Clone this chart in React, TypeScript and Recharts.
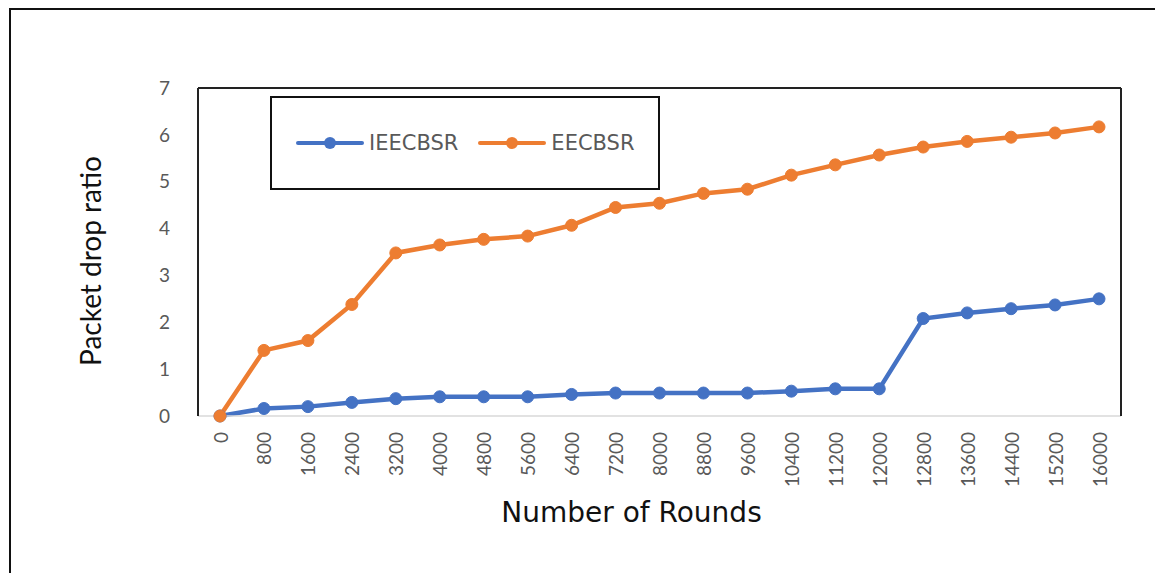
import {
  Label,
  Legend,
  Line,
  LineChart,
  XAxis,
  YAxis,
} from 'recharts';

const rounds = [
  '0', '800', '1600', '2400', '3200', '4000', '4800', '5600', '6400', '7200', '8000',
  '8800', '9600', '10400', '11200', '12000', '12800', '13600', '14400', '15200', '16000',
];

const ieecbsr = [
  0, 0.16, 0.2, 0.29, 0.37, 0.41, 0.41, 0.41, 0.46, 0.49, 0.49,
  0.49, 0.49, 0.53, 0.58, 0.58, 2.08, 2.2, 2.29, 2.37, 2.5,
];

const eecbsr = [
  0, 1.4, 1.61, 2.38, 3.48, 3.65, 3.77, 3.84, 4.07, 4.45, 4.54,
  4.75, 4.84, 5.14, 5.36, 5.57, 5.74, 5.86, 5.95, 6.04, 6.17,
];

const seriesNames = ['IEECBSR', 'EECBSR'];
const yTicks = [0, 1, 2, 3, 4, 5, 6, 7];

const data = rounds.map((label, i) => ({
  label,
  IEECBSR: ieecbsr[i],
  EECBSR: eecbsr[i],
}));

const BLUE = '#4472C4';
const ORANGE = '#ED7D31';
const FONT = 'Lato, "Liberation Sans", sans-serif';
const WIDE_FONT = '"DejaVu Sans", sans-serif';

function LegendBox({ payload }: any) {
  const items = [...(payload || [])].sort(
    (a: any, b: any) => seriesNames.indexOf(a.value) - seriesNames.indexOf(b.value)
  );
  return (
    <div
      style={{
        display: 'flex',
        alignItems: 'center',
        height: '100%',
        paddingLeft: 24,
        fontFamily: WIDE_FONT,
        fontSize: 21,
        color: '#595959',
      }}
    >
      {items.map((entry: any) => (
        <div
          key={entry.value}
          style={{ display: 'flex', alignItems: 'center', marginRight: 20 }}
        >
          <svg width={68} height={16} style={{ marginRight: 5 }}>
            <line x1={2} y1={8} x2={66} y2={8} stroke={entry.color} strokeWidth={4} strokeLinecap="round" />
            <circle cx={34} cy={8} r={6} fill={entry.color} />
          </svg>
          <span>{entry.value}</span>
        </div>
      ))}
    </div>
  );
}

export default function App() {
  return (
    <div
      style={{
        width: 1155,
        height: 565,
        marginLeft: 1,
        borderLeft: '2px solid #111',
        borderTop: '2px solid #111',
        boxSizing: 'border-box',
        overflow: 'hidden',
        background: '#fff',
      }}
    >
      <LineChart
        width={1153}
        height={563}
        data={data}
        margin={{ top: 77, right: 42, left: 147, bottom: 77 }}
      >
        <XAxis
          dataKey="label"
          interval={0}
          height={80}
          padding={{ left: 22, right: 22 }}
          tickLine={false}
          axisLine={{ stroke: '#d9d9d9', strokeWidth: 1.5 }}
          tick={(props: any) => (
            <text
              x={props.x}
              y={props.y}
              transform={`rotate(-90 ${props.x} ${props.y})`}
              textAnchor="end"
              dominantBaseline="central"
              dx={-8}
              fill="#595959"
              fontSize={19}
              fontFamily={FONT}
            >
              {props.payload.value}
            </text>
          )}
        >
          <Label
            value="Number of Rounds"
            position="bottom"
            offset={6}
            dx={-28}
            fill="#111"
            fontSize={28}
            fontFamily={WIDE_FONT}
          />
        </XAxis>
        <XAxis
          xAxisId="top"
          dataKey="label"
          orientation="top"
          height={1}
          padding={{ left: 22, right: 22 }}
          tick={false}
          tickLine={false}
          axisLine={{ stroke: '#222', strokeWidth: 2 }}
        />
        <YAxis
          domain={[0, 7]}
          ticks={yTicks}
          width={40}
          tickLine={false}
          tickMargin={22}
          axisLine={{ stroke: '#222', strokeWidth: 2 }}
          tick={{ fill: '#595959', fontSize: 19, fontFamily: FONT }}
        >
          <Label
            value="Packet drop ratio"
            angle={-90}
            position="left"
            offset={67}
            dy={9}
            textAnchor="middle"
            fill="#111"
            fontSize={28}
            fontFamily={FONT}
          />
        </YAxis>
        <YAxis
          yAxisId="right"
          orientation="right"
          domain={[0, 7]}
          width={1}
          tick={false}
          tickLine={false}
          axisLine={{ stroke: '#222', strokeWidth: 2 }}
        />
        <Legend
          layout="vertical"
          align="center"
          verticalAlign="middle"
          content={<LegendBox />}
          wrapperStyle={{
            position: 'absolute',
            left: 259,
            top: 86,
            width: 390,
            height: 94,
            border: '2px solid #111',
            boxSizing: 'border-box',
            background: '#fff',
          }}
        />
        <Line
          type="linear"
          dataKey="IEECBSR"
          stroke={BLUE}
          strokeWidth={4.5}
          dot={{ r: 6, fill: BLUE, stroke: BLUE, strokeWidth: 1 }}
          activeDot={false}
          isAnimationActive={false}
        />
        <Line
          type="linear"
          dataKey="EECBSR"
          stroke={ORANGE}
          strokeWidth={4.5}
          dot={{ r: 6, fill: ORANGE, stroke: ORANGE, strokeWidth: 1 }}
          activeDot={false}
          isAnimationActive={false}
        />
      </LineChart>
    </div>
  );
}
